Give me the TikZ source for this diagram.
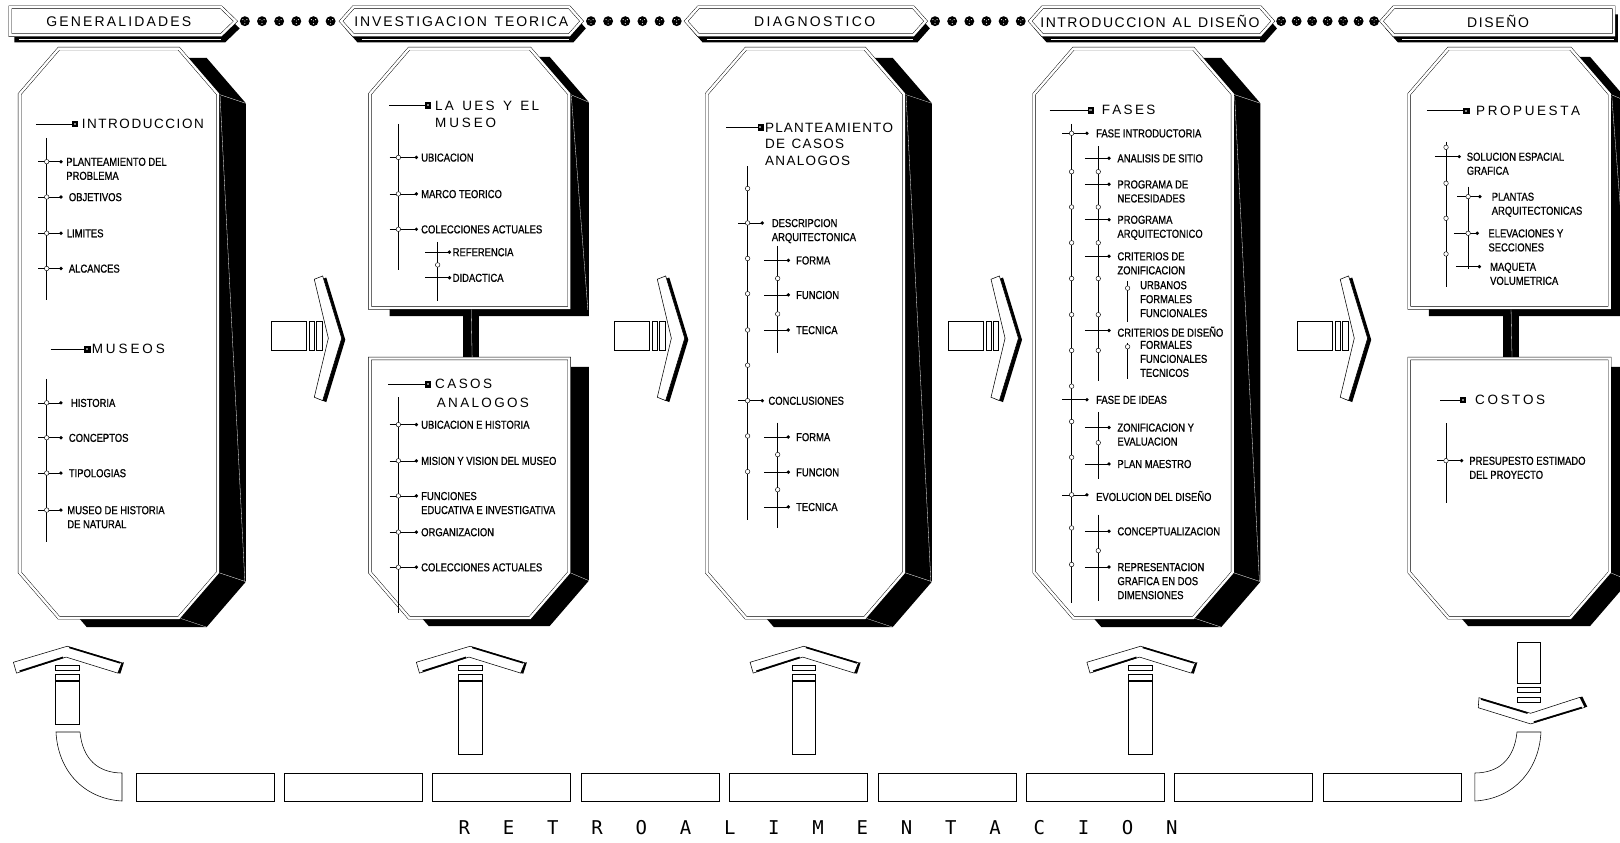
\documentclass[tikz,border=0pt]{standalone}
\usepackage{fontspec}
\setmainfont{Liberation Sans}
\newfontfamily\narrowfont[FakeStretch=0.82,FakeBold=0.8]{Liberation Sans}
\newfontfamily\monofont{DejaVu Sans Mono}

\ExplSyntaxOn
\cs_new_protected:Npn \spr_letters:n #1 { \str_map_inline:nn {#1} { ##1 \hfil } }
\cs_generate_variant:Nn \spr_letters:n { x }
\NewDocumentCommand \spread { m m } { \makebox[#1][s]{ \spr_letters:x {#2} \unskip } }
\ExplSyntaxOff

\begin{document}
\begin{tikzpicture}[
  x=1.0332pt,
  y=-1.0332pt,
  panel/.style={fill=white,draw=black,double=white,double distance=2.4pt,line width=0.45pt},
  solid/.style={fill=black},
  glint/.style={draw=white,line width=0.3pt},
  tick/.style={line width=0.55pt},
  hole/.style={fill=white,draw=black,line width=0.45pt},
  piece/.style={fill=white,draw=black,line width=0.55pt},
  lab/.style={font=\narrowfont\fontsize{11.5}{14}\selectfont,inner sep=0pt,anchor=north west,align=left},
  head/.style={font=\fontsize{13.5}{15}\selectfont,inner sep=0pt,anchor=west},
  ttl/.style={font=\fontsize{14}{16}\selectfont,inner sep=0pt},
  retro/.style={font=\monofont\fontsize{19}{21}\selectfont,inner sep=0pt}
]
\useasboundingbox (0,0) rectangle (1568,815);
\fill[white] (0,0) rectangle (1568,815);

% stage strip
\foreach \a/\b/\c/\d/\m/\w/\s [count=\i] in {
  10/10/214/228/115/145pt/GENERALIDADES,
  330/342/551/563/446.5/214pt/INVESTIGACION TEORICA,
  664/676/884/896/788.5/121pt/DIAGNOSTICO,
  997/1009/1220/1232/1113/219pt/INTRODUCCION AL DISEÑO,
  1337/1349/1562/1562/1450/62pt/DISEÑO} {
  \fill[solid] (\a+4,27.5) -- (\b+4,14) -- (\c+4,14) -- (\d+4,27.5) -- (\c+4,41) -- (\b+4,41) -- cycle;
  \draw[glint] (\b+8,38) -- (\c,38);
  \draw[panel] (\a,20.5) -- (\b,7) -- (\c,7) -- (\d,20.5) -- (\c,34) -- (\b,34) -- cycle;
  \node[ttl] (stage\i) at (\m,21) {\spread{\w}{\s}};
}
\foreach \x in {237,253.6,...,321,572,588.6,...,656,905,921.6,...,989,1240,1255,...,1331} {
  \fill[solid] (\x,20.5) circle[radius=4.8];
  \fill[white] (\x-2,19) circle[radius=0.6] (\x+2,19) circle[radius=0.6] (\x,23) circle[radius=0.6] (\x,20.3) circle[radius=0.5];
}

% tall panels
\foreach \l/\r in {19/211,684/875,1001/1193} {
  \fill[solid] (\l+65,56) -- (\r-11,56) -- (\r+27,100) -- (\r+27,563) -- (\r-11,607) -- (\l+65,607) -- (\l+27,563) -- (\l+27,100) -- cycle;
  \draw[glint] (\r,91) -- (\r+27,100) (\r,554) -- (\r+27,563) (\r-38,598) -- (\r-11,607) (\r+2,93) -- (\r+26,563);
  \draw[panel] (\l+38,47) -- (\r-38,47) -- (\r,91) -- (\r,554) -- (\r-38,598) -- (\l+38,598) -- (\l,554) -- (\l,91) -- cycle;
}
% split panels
\foreach \l/\r in {358/551,1364/1558} {
  \fill[solid] (\l+57,55) -- (\r-19,55) -- (\r+19,99) -- (\r+19,306) -- (\l+19,306) -- (\l+19,99) -- cycle;
  \fill[solid] (\l+19,355) -- (\r+19,355) -- (\r+19,562) -- (\r-19,606) -- (\l+57,606) -- (\l+19,562) -- cycle;
  \draw[glint] (\r,91) -- (\r+19,99) (\r,554) -- (\r+19,562) (\r+2,93) -- (\r+18,300);
  \fill[solid] ({(\l+\r)/2-6},298) rectangle ({(\l+\r)/2+9},347);
  \draw[glint] ({(\l+\r)/2+1.5},298) -- ({(\l+\r)/2+2.5},347);
  \draw[panel] (\l+38,47) -- (\r-38,47) -- (\r,91) -- (\r,298) -- (\l,298) -- (\l,91) -- cycle;
  \draw[panel] (\l,347) -- (\r,347) -- (\r,554) -- (\r-38,598) -- (\l+38,598) -- (\l,554) -- cycle;
}

% headings
\foreach \a/\m/\y in {34.8/72.6/120,49/84.5/338,376.8/414/102,376/414/372,702.7/736/123.3,1016/1055.5/106.7,1381/1419/107,1394/1416/387} {
  \draw[tick] (\a,\y) -- (\m,\y);
  \filldraw[line width=0.4pt] (\m-2.6,\y-2.6) rectangle (\m+2.6,\y+2.6);
  \fill[black!45] (\m-1,\y-1) rectangle (\m+1,\y+1);
}
\node[head] (intro) at (79,120) {\spread{122pt}{INTRODUCCION}};
\node[head] (museos) at (88.7,338) {\spread{73pt}{MUSEOS}};
\node[head] (ues) at (421,102) {\spread{104pt}{LA UES Y EL}};
\node[head] (ues2) at (421,118.5) {\spread{61pt}{MUSEO}};
\node[head] (casos) at (421,372) {\spread{57pt}{CASOS}};
\node[head] (casos2) at (422.7,390) {\spread{92pt}{ANALOGOS}};
\node[head] (plan) at (740.4,123.3) {\spread{128pt}{PLANTEAMIENTO}};
\node[head] (plan2) at (740.4,138.8) {\spread{79pt}{DE CASOS}};
\node[head] (plan3) at (740.4,155.8) {\spread{85pt}{ANALOGOS}};
\node[head] (fases) at (1066.3,106.7) {\spread{53.5pt}{FASES}};
\node[head] (prop) at (1428.6,107) {\spread{104pt}{PROPUESTA}};
\node[head] (costos) at (1427.6,387) {\spread{70pt}{COSTOS}};

% generalidades
\draw[tick] (45.2,133.5) -- (45.2,290) (45.2,366.8) -- (45.2,524.5);
\foreach \y/\xt/\txt [count=\i] in {156.5/64/{PLANTEAMIENTO DEL\\PROBLEMA},190.7/66.5/OBJETIVOS,225.7/64.5/LIMITES,259.9/66.5/ALCANCES,389.9/68.5/HISTORIA,423.7/66.5/CONCEPTOS,457.9/66.5/TIPOLOGIAS,493.7/65/{MUSEO DE HISTORIA\\DE NATURAL}} {
  \draw[tick] (37,\y) -- (59,\y);
  \draw[hole] (45.2,\y) circle[radius=2.2];
  \fill (59,\y) circle[radius=1.8];
  \node[lab] (gen\i) at (\xt,\y-4) {\txt};
}

% investigacion teorica
\draw[tick] (385.6,120) -- (385.6,261) (423.6,234) -- (423.6,291) (385.6,384.6) -- (385.6,593.4);
\foreach \y/\txt [count=\i] in {152.4/UBICACION,187.7/MARCO TEORICO,221.9/COLECCIONES ACTUALES,411/UBICACION E HISTORIA,446/MISION Y VISION DEL MUSEO,480/{FUNCIONES\\EDUCATIVA E INVESTIGATIVA},515/ORGANIZACION,549/COLECCIONES ACTUALES} {
  \draw[tick] (377,\y) -- (403,\y);
  \draw[hole] (385.6,\y) circle[radius=2.2];
  \fill (403,\y) circle[radius=1.8];
  \node[lab] (inv\i) at (407.5,\y-4) {\txt};
}
\foreach \y/\txt [count=\i] in {244/REFERENCIA,268.8/DIDACTICA} {
  \draw[tick] (411.4,\y) -- (435,\y);
  \fill (435,\y) circle[radius=1.8];
  \node[lab] (col\i) at (438,\y-4) {\txt};
}
\draw[hole] (423.6,256.4) circle[radius=2.2];

% diagnostico
\draw[tick] (723.6,161) -- (723.6,503) (752.7,238) -- (752.7,341.6) (752.7,409) -- (752.7,511);
\foreach \y in {182.5,250.2,284.3,319.4,353.5,422,456.5} \draw[hole] (723.6,\y) circle[radius=2.2];
\foreach \y in {269.5,303.9,440,474} \draw[hole] (752.7,\y) circle[radius=2.2];
\foreach \y/\xt/\txt [count=\i] in {215.8/746.9/{DESCRIPCION\\ARQUITECTONICA},387.8/743.6/CONCLUSIONES} {
  \draw[tick] (714.6,\y) -- (737.8,\y);
  \draw[hole] (723.6,\y) circle[radius=2.2];
  \fill (737.8,\y) circle[radius=1.8];
  \node[lab] (diag\i) at (\xt,\y-4) {\txt};
}
\foreach \y/\txt [count=\i] in {252/FORMA,285.4/FUNCION,319.4/TECNICA,423/FORMA,457/FUNCION,490.6/TECNICA} {
  \draw[tick] (739.8,\y) -- (763,\y);
  \fill (763,\y) circle[radius=1.8];
  \node[lab] (aspect\i) at (770.4,\y-4) {\txt};
}

% introduccion al diseno
\draw[tick] (1037.2,119.8) -- (1037.2,583.9) (1063,141.8) -- (1063,368.7) (1063,398.7) -- (1063,463.8) (1063,498.2) -- (1063,581.9) (1091.4,272.3) -- (1091.4,311.3) (1091.4,331.9) -- (1091.4,367.2);
\foreach \y in {166.2,200.4,235,269.6,304.6,339.2,373.8,408,442.6,511,546.4} \draw[hole] (1037.2,\y) circle[radius=2.2];
\foreach \y in {166.2,200.4,235,269.6,304.6,339.2,428.5,533} \draw[hole] (1063,\y) circle[radius=2.2];
\draw[hole] (1091.4,278.9) circle[radius=2.2] (1091.4,335.6) circle[radius=2.2];
\foreach \y/\txt [count=\i] in {129/FASE INTRODUCTORIA,386.9/FASE DE IDEAS,478.9/EVOLUCION DEL DISEÑO} {
  \draw[tick] (1028.2,\y) -- (1051.7,\y);
  \fill (1052,\y) circle[radius=1.8];
  \node[lab] (fase\i) at (1060.8,\y-4) {\txt};
}
\draw[hole] (1037.2,129) circle[radius=2.2] (1037.2,478.9) circle[radius=2.2];
\foreach \y/\txt [count=\i] in {153.2/ANALISIS DE SITIO,178.4/{PROGRAMA DE\\NECESIDADES},212.6/{PROGRAMA\\ARQUITECTONICO},248/{CRITERIOS DE\\ZONIFICACION},319.9/CRITERIOS DE DISEÑO,413.7/{ZONIFICACION Y\\EVALUACION},449/PLAN MAESTRO,514.2/CONCEPTUALIZACION,548.8/{REPRESENTACION\\GRAFICA EN DOS\\DIMENSIONES}} {
  \draw[tick] (1050,\y) -- (1073.4,\y);
  \fill (1073.4,\y) circle[radius=1.8];
  \node[lab] (paso\i) at (1081.4,\y-4) {\txt};
}
\node[lab] (crit1) at (1103.4,271.9) {URBANOS\\FORMALES\\FUNCIONALES};
\node[lab] (crit2) at (1103.4,329.7) {FORMALES\\FUNCIONALES\\TECNICOS};

% diseno
\draw[tick] (1399.6,137) -- (1399.6,278) (1421,180.7) -- (1421,260) (1399.6,409.7) -- (1399.6,487);
\foreach \y in {142.6,177.4,211.3,245.8} \draw[hole] (1399.6,\y) circle[radius=2.2];
\draw[tick] (1388.9,151.6) -- (1412.4,151.6);
\fill (1412.4,151.6) circle[radius=1.8];
\node[lab] (sol) at (1419.5,147.6) {SOLUCION ESPACIAL\\GRAFICA};
\foreach \y/\a/\b/\xt/\txt [count=\i] in {190.3/1410.5/1432.4/1443.7/{PLANTAS\\ARQUITECTONICAS},225.8/1407.3/1429.8/1440.5/{ELEVACIONES Y\\SECCIONES},258.1/1409.2/1431.8/1442.1/{MAQUETA\\VOLUMETRICA}} {
  \draw[tick] (\a,\y) -- (\b,\y);
  \fill (\b,\y) circle[radius=1.8];
  \node[lab] (graf\i) at (\xt,\y-4) {\txt};
}
\draw[hole] (1421,190.3) circle[radius=2.2] (1421,225.8) circle[radius=2.2];
\draw[tick] (1391,445.9) -- (1414.7,445.9);
\draw[hole] (1399.6,445.9) circle[radius=2.2];
\fill (1414.7,445.9) circle[radius=1.8];
\node[lab] (pres) at (1422,441.9) {PRESUPESTO ESTIMADO\\DEL PROYECTO};

% forward arrows
\foreach \ox in {0,332,655,993} {
  \draw[piece] (263+\ox,311.3) rectangle (296.8+\ox,338.8);
  \draw[piece] (299.4+\ox,311.3) rectangle (304.2+\ox,338.8);
  \draw[piece] (306.5+\ox,311.3) rectangle (311.6+\ox,338.8);
  \fill[solid] (307.7+\ox,271.8) -- (315.8+\ox,268.6) -- (334.2+\ox,328.9) -- (315.8+\ox,389.2) -- (307.7+\ox,386) -- (321.3+\ox,328.9) -- cycle;
  \draw[piece] (304.2+\ox,270.3) -- (312.3+\ox,267.1) -- (330.7+\ox,327.4) -- (312.3+\ox,387.7) -- (304.2+\ox,384.5) -- (317.8+\ox,327.4) -- cycle;
}

% feedback arrows
\foreach \cx/\top/\bot in {65/659.8/700.7,455/659/729.8,778/659/729.8,1104/659/729.8} {
  \draw[piece] (\cx-11.5,643.5) rectangle (\cx+11.5,649);
  \draw[piece] (\cx-11.5,652.3) rectangle (\cx+11.5,658);
  \draw[piece] (\cx-11.5,\top) rectangle (\cx+11.5,\bot);
  \draw[piece] (\cx-52,641) -- (\cx,625.5) -- (\cx+53,641.5) -- (\cx+49,651.5) -- (\cx-1,636) -- (\cx-49,651.5) -- cycle;
  \draw[line width=1.6pt] (\cx+2,626.6) -- (\cx+51.5,641.6);
  \draw[line width=1.6pt] (\cx-46,649.7) -- (\cx-4,636.3);
  \fill[solid] (\cx+53,641.5) -- (\cx+55,641) -- (\cx+51.5,652) -- (\cx+49,651.5) -- cycle;
}
\draw[piece] (1468.3,621.4) rectangle (1490.5,661);
\draw[piece] (1468.3,665) rectangle (1490.5,669.8);
\draw[piece] (1468.3,674.6) rectangle (1490.5,679.5);
\draw[piece] (1431.5,675.3) -- (1481.5,690.4) -- (1529.2,674.9) -- (1534,684.6) -- (1481.5,700.7) -- (1430.8,685) -- cycle;
\draw[line width=1.6pt] (1433.5,676.6) -- (1478.5,690.2);
\draw[line width=1.6pt] (1484.5,699) -- (1531,684.8);
\fill[solid] (1529.2,674.9) -- (1531.5,674.2) -- (1536.3,684) -- (1534,684.6) -- cycle;

% feedback channel
\draw[piece] (54.2,708.5) -- (77.4,708.5) .. controls (80,735) and (95,748) .. (118.1,748.2) -- (118.1,775.3) .. controls (80,773) and (56,745) .. (54.2,708.5) -- cycle;
\draw[piece] (1491.5,708.5) -- (1468.3,708.5) .. controls (1465.7,735) and (1450.7,748) .. (1427.6,748.2) -- (1427.6,775.3) .. controls (1465.7,773) and (1489.7,745) .. (1491.5,708.5) -- cycle;
\foreach \k in {0,...,8}
  \draw[piece] (131.6+143.6*\k,748.2) rectangle +(133.6,27.1);
\foreach \c [count=\i from 0] in {R,E,T,R,O,A,L,I,M,E,N,T,A,C,I,O,N}
  \node[retro] (retro\i) at (449.5+42.8*\i,801) {\c};
\end{tikzpicture}
\end{document}
